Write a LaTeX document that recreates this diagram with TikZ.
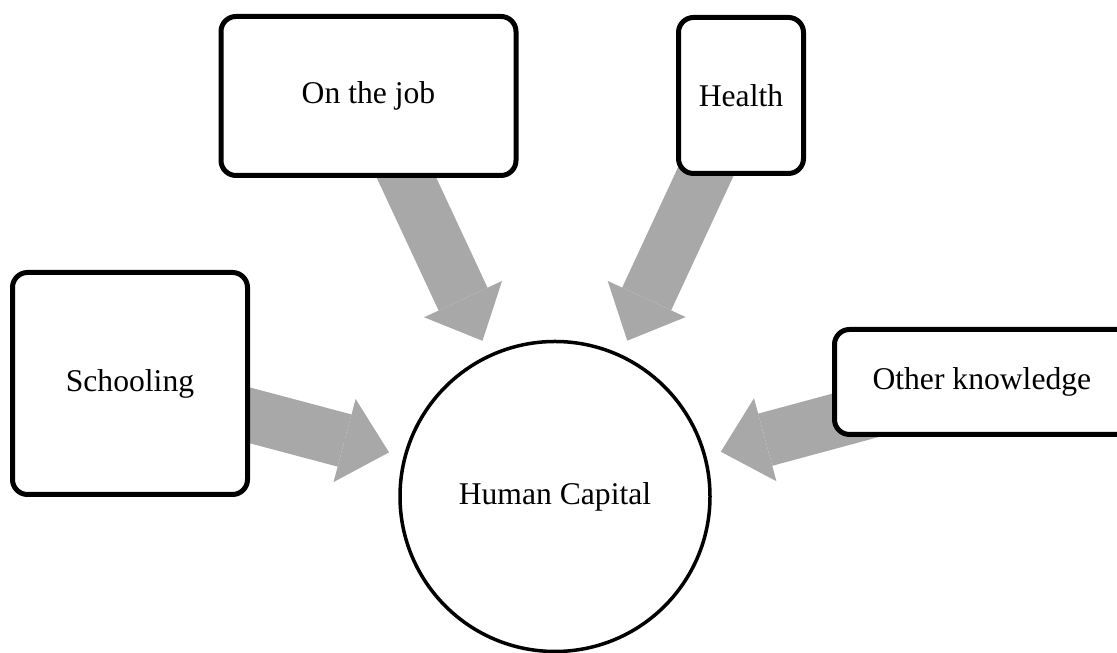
\documentclass[tikz,border=0pt]{standalone}
\usepackage{fontspec}
\setmainfont{Liberation Serif}
\usetikzlibrary{arrows.meta, backgrounds, calc}
\definecolor{flowgray}{RGB}{168, 168, 168}
\tikzstyle{source} = [rectangle, draw=black, fill=white, rounded corners=0.3cm, line width=0.1cm, inner sep=0pt, align=center]
\tikzstyle{hub} = [circle, draw=black, fill=white, line width=0.07cm, minimum size=6.2cm, inner sep=0pt]
\tikzstyle{flow} = [draw=flowgray, line width=1.08cm, -{Triangle[width=1.72cm, length=0.92cm, line width=0pt]}, shorten >=0.3cm, shorten <=-0.3cm, preaction={draw=flowgray, -, shorten >=0.9cm}]

\begin{document}
\begin{tikzpicture}[font=\fontsize{18}{22}\selectfont]
    \useasboundingbox (0,0) rectangle (22.34,13.06);

    % Human capital
    \node[hub] (capital) at (11.1, 3.13) {Human Capital};

    % On the job
    \node[source, minimum width=5.9cm, minimum height=3.18cm] (job) at (7.37, 11.14) {On the job};

    % Health
    \node[source, minimum width=2.5cm, minimum height=3.12cm] (health) at (14.82, 11.15) {Health};

    % Schooling
    \node[source, minimum width=4.7cm, minimum height=4.44cm] (schooling) at (2.6, 5.39) {Schooling};

    % Other knowledge (runs off the right edge)
    \node[source, anchor=west, minimum height=2.1cm, text width=5.3cm, align=flush left, inner xsep=0.76cm] (other) at (16.64, 5.42) {Other knowledge};

    % Arrows
    \begin{scope}[on background layer]
        \draw[flow] (job) -- (capital);
        \draw[flow] (health) -- (capital);
        \draw[flow] (schooling) -- (capital);
        \draw[flow] ($(other.west)+(2.94,0)$) -- (capital);
    \end{scope}
\end{tikzpicture}
\end{document}
